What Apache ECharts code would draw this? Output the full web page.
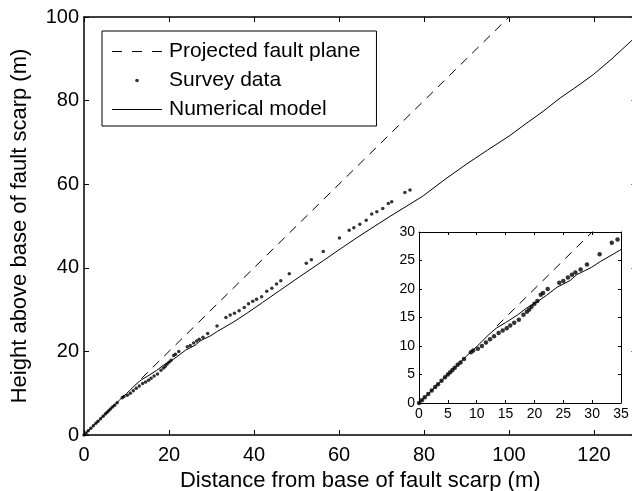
<!DOCTYPE html>
<html>
<head>
<meta charset="utf-8">
<title>Fault scarp profile</title>
<script src="https://cdn.jsdelivr.net/npm/echarts@6/dist/echarts.min.js"></script>
<style>
    html, body { margin: 0; padding: 0; background: #fff; }
    #chart { width: 632px; height: 491px; }
</style>
</head>
<body>
<div id="chart"></div>
<script>
/* 断层陡坎剖面：主图 + 右下角放大图 */

// 投影断层面（虚线）
var planeX = [13.5, 100];
var planeY = [13.5, 100];

// 实测数据（点）
var surveyX = [0, 0.5, 1.0, 1.6, 2.2, 2.8, 3.3, 3.9, 4.5, 5.0, 5.4, 5.8, 6.2, 6.7, 7.2, 7.8, 9.0, 9.4,
    10.2, 10.9, 11.6, 12.3, 13.0, 13.8, 14.5, 15.2, 15.8, 16.5, 17.3, 18.1, 18.7, 19.1, 19.5, 20.0, 20.5,
    21.1, 21.5, 22.3, 24.3, 25.0, 25.8, 26.5, 27.1, 28.0, 29.1, 31.3, 33.4, 34.4, 35.4, 36.5, 37.7, 38.7,
    39.7, 40.6, 41.8, 43.0, 44.2, 45.3, 46.3, 48.3, 52.3, 53.5, 56.3, 60.1, 62.4, 63.5, 64.9, 66.4, 67.7,
    68.9, 70.3, 71.6, 72.4, 75.5, 76.7];
var surveyY = [0, 0.5, 1.0, 1.6, 2.2, 2.8, 3.3, 3.9, 4.5, 5.0, 5.4, 5.8, 6.2, 6.7, 7.1, 7.7, 8.9, 9.2,
    9.5, 10.0, 10.6, 11.2, 11.7, 12.3, 12.7, 13.1, 13.6, 14.1, 14.6, 15.5, 16.0, 16.4, 16.9, 17.4, 17.9,
    19.0, 19.3, 20.0, 21.1, 21.4, 22.0, 22.5, 22.9, 23.4, 24.3, 26.1, 28.1, 28.7, 29.1, 29.7, 30.5, 31.4,
    32.0, 32.5, 33.1, 34.4, 35.1, 36.1, 36.9, 38.6, 41.1, 41.9, 43.9, 47.1, 49.0, 49.6, 50.4, 51.4, 52.9,
    53.4, 54.2, 55.4, 55.8, 58.0, 58.6];

// 数值模型（实线）
var modelX = [0, 5, 9, 10, 11, 12, 13, 13.5, 15, 17, 18.7, 20.4, 22.1, 23.9, 26.2, 27.3, 29.9, 31.4,
    34.8, 38.3, 42, 46.1, 50.8, 56.3, 61, 64.2, 68, 72, 76, 79.8, 85, 90, 95, 100, 104, 108, 112, 116,
    119.8, 124, 129, 130];
var modelY = [0, 5, 9, 9.9, 10.9, 11.9, 12.8, 13.2, 14.1, 15.4, 16.7, 17.7, 18.9, 20.3, 21.5, 22.5,
    23.8, 24.8, 26.8, 29.1, 31.7, 34.6, 37.9, 41.7, 45.0, 47.2, 49.7, 52.3, 54.8, 57.2, 61.2, 64.8, 68.2,
    71.5, 74.5, 77.4, 80.6, 83.4, 86.2, 89.8, 94.5, 95.3];

// 刻度 [min, max, interval]
var mainXTicks = [0, 130, 20];
var mainYTicks = [0, 100, 20];
var insetXTicks = [0, 35, 5];
var insetYTicks = [0, 30, 5];

var fontFamily = 'Liberation Sans, Arial, Helvetica, sans-serif';

// 图例图标 (50x14)：四角的退化线段撑起包围盒，只填充中间部分
var iconDashed = 'path://M0,0L0,0M50,14L50,14M0,6.5h10v1h-10zM20,6.5h10v1h-10zM40,6.5h10v1h-10z';
var iconDot = 'path://M0,0L0,0M50,14L50,14M23.2,7a1.8,1.8 0 1,0 3.6,0a1.8,1.8 0 1,0 -3.6,0z';
var iconSolid = 'path://M0,0L0,0M50,14L50,14M0,6.5h50v1h-50z';

function zip(xs, ys) {
    var arr = [];
    for (var i = 0; i < xs.length; i++) {
        arr.push([xs[i], ys[i]]);
    }
    return arr;
}

// 生成坐标轴；mirror 为上/右侧只带刻度的镜像轴
function makeAxis(grid, ticks, position, mirror, fontSize, tickLen, lineWidth, margin) {
    return {
        type: 'value',
        gridIndex: grid,
        position: position,
        min: ticks[0],
        max: ticks[1],
        interval: ticks[2],
        splitLine: { show: false },
        axisLine: { show: true, onZero: false, lineStyle: { color: '#000', width: lineWidth } },
        axisTick: { show: true, inside: true, length: tickLen, lineStyle: { color: '#000', width: 1 } },
        axisLabel: {
            show: !mirror,
            color: '#000',
            fontSize: fontSize,
            fontFamily: fontFamily,
            margin: margin,
            showMaxLabel: ticks[1] % ticks[2] === 0
        }
    };
}

var dom = document.getElementById('chart');
var myChart = echarts.init(dom, null, { renderer: 'canvas' });

var xMain = makeAxis(0, mainXTicks, 'bottom', false, 20, 5, 1.5, 10);
xMain.name = 'Distance from base of fault scarp (m)';
xMain.nameLocation = 'middle';
xMain.nameGap = 34;
xMain.nameTextStyle = { color: '#000', fontSize: 22, fontFamily: fontFamily };

var yMain = makeAxis(0, mainYTicks, 'left', false, 20, 5, 1.5, 5);
yMain.name = 'Height above base of fault scarp (m)';
yMain.nameLocation = 'middle';
yMain.nameGap = 53;
yMain.nameTextStyle = { color: '#000', fontSize: 22, fontFamily: fontFamily };

var option = {
    backgroundColor: '#fff',
    animation: false,
    grid: [{
        left: 84, top: 17, right: -4.5, bottom: 56,
        containLabel: false,
        outerBoundsMode: 'none'
    }, {
        left: 419, top: 232, right: 11, bottom: 88,
        containLabel: false,
        outerBoundsMode: 'none',
        show: true,
        backgroundColor: '#fff',
        borderWidth: 0
    }],
    legend: {
        orient: 'vertical',
        left: 102,
        top: 31,
        padding: [10, 16, 6, 10],
        itemWidth: 50,
        itemHeight: 14,
        itemGap: 8,
        borderColor: '#000',
        borderWidth: 1,
        backgroundColor: '#fff',
        textStyle: { color: '#000', fontSize: 21, fontFamily: fontFamily, padding: [0, 0, 0, 2] },
        data: [
            { name: 'Projected fault plane', icon: iconDashed, itemStyle: { color: '#000', borderWidth: 0 } },
            { name: 'Survey data', icon: iconDot, itemStyle: { color: '#000', borderWidth: 0 } },
            { name: 'Numerical model', icon: iconSolid, itemStyle: { color: '#000', borderWidth: 0 } }
        ]
    },
    xAxis: [
        xMain,
        makeAxis(0, mainXTicks, 'top', true, 20, 5, 1.5, 8),
        makeAxis(1, insetXTicks, 'bottom', false, 14, 3, 1, 4),
        makeAxis(1, insetXTicks, 'top', true, 14, 3, 1, 4)
    ],
    yAxis: [
        yMain,
        makeAxis(0, mainYTicks, 'right', true, 20, 5, 1.5, 5),
        makeAxis(1, insetYTicks, 'left', false, 14, 3, 1, 4),
        makeAxis(1, insetYTicks, 'right', true, 14, 3, 1, 4)
    ],
    series: [{
        name: 'Projected fault plane',
        type: 'line',
        xAxisIndex: 0, yAxisIndex: 0,
        symbol: 'none',
        data: zip(planeX, planeY),
        lineStyle: { color: '#000', width: 1, type: [9, 7] },
        itemStyle: { color: '#000' }
    }, {
        name: 'Survey data',
        type: 'scatter',
        xAxisIndex: 0, yAxisIndex: 0,
        symbolSize: 3.5,
        data: zip(surveyX, surveyY),
        itemStyle: { color: '#000' }
    }, {
        name: 'Numerical model',
        type: 'line',
        xAxisIndex: 0, yAxisIndex: 0,
        symbol: 'none',
        data: zip(modelX, modelY),
        lineStyle: { color: '#000', width: 1 },
        itemStyle: { color: '#000' }
    }, {
        // 放大图
        name: 'Projected fault plane',
        type: 'line',
        xAxisIndex: 2, yAxisIndex: 2,
        symbol: 'none',
        data: zip(planeX, planeY),
        lineStyle: { color: '#000', width: 1, type: [9, 7] },
        itemStyle: { color: '#000' }
    }, {
        name: 'Survey data',
        type: 'scatter',
        xAxisIndex: 2, yAxisIndex: 2,
        symbolSize: 4.5,
        data: zip(surveyX, surveyY),
        itemStyle: { color: '#000' }
    }, {
        name: 'Numerical model',
        type: 'line',
        xAxisIndex: 2, yAxisIndex: 2,
        symbol: 'none',
        data: zip(modelX, modelY),
        lineStyle: { color: '#000', width: 1 },
        itemStyle: { color: '#000' }
    }]
};

myChart.setOption(option);
</script>
</body>
</html>
